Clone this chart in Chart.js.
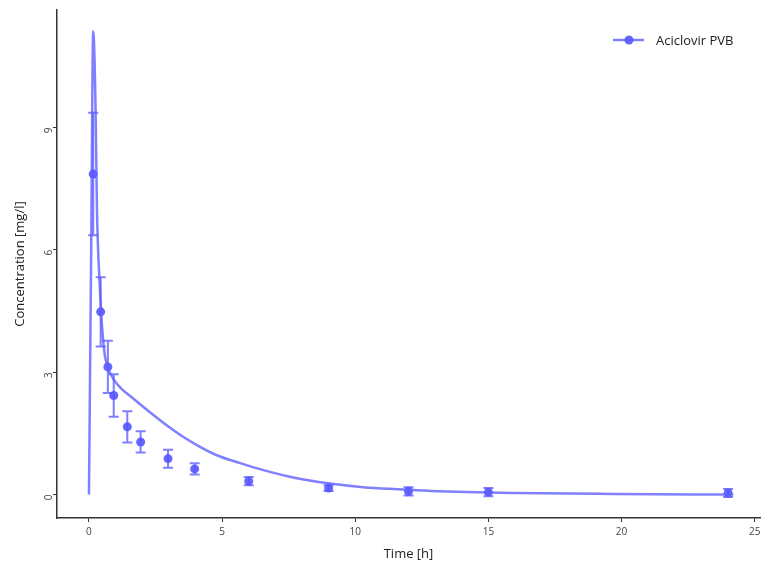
<!DOCTYPE html>
<html>
<head>
<meta charset="utf-8">
<script src="https://cdn.jsdelivr.net/npm/chart.js@4.4.1/dist/chart.umd.min.js"></script>
<style>
  html, body { margin: 0; padding: 0; background: #fff; }
</style>
</head>
<body>
<canvas id="myChart" width="768" height="576"></canvas>
<script>
// observed means and SD
const obsTime = [0.16, 0.44, 0.71, 0.93, 1.44, 1.94, 2.97, 3.97, 6, 9, 12, 15, 24];
const obsConc = [7.86, 4.48, 3.13, 2.43, 1.66, 1.29, 0.88, 0.63, 0.33, 0.16, 0.08, 0.06, 0.04];
const obsSd = [1.5, 0.85, 0.64, 0.52, 0.38, 0.26, 0.22, 0.14, 0.1, 0.07, 0.1, 0.1, 0.1];

// fitted curve
const fitTime = [0, 0.08, 0.16, 0.25, 0.3, 0.4, 0.5, 0.6, 0.73, 0.9, 1.17, 1.67, 2.29, 2.92, 3.55, 4.17, 4.8, 5.68, 6.55, 7.81, 9.06, 10.3, 11.57, 12.82, 15.94, 19.7, 24.2];
const fitConc = [0, 5.7, 11.35, 9.4, 7.0, 5.2, 4.05, 3.4, 3.08, 2.85, 2.63, 2.35, 2.02, 1.7, 1.41, 1.17, 0.965, 0.77, 0.6, 0.4, 0.27, 0.18, 0.13, 0.09, 0.04, 0.015, 0.0];

const xTicks = [0, 5, 10, 15, 20, 25];
const yTicks = [0, 3, 6, 9];
const seriesName = "Aciclovir PVB";

const lineColor = "rgba(95, 95, 255, 0.8)";
const pointColor = "rgba(85, 85, 255, 0.9)";
const axisColor = "#333333";
const fontFamily = "'Open Sans', 'Noto Sans', sans-serif";

const errorBars = {
    id: "errorBars",
    beforeDatasetsDraw(chart) {
        const ctx = chart.ctx;
        const xs = chart.scales.x;
        const ys = chart.scales.y;
        ctx.save();
        ctx.strokeStyle = lineColor;
        ctx.lineWidth = 2;
        obsTime.forEach((t, i) => {
            const x = xs.getPixelForValue(t);
            const top = ys.getPixelForValue(obsConc[i] + obsSd[i]);
            const bot = ys.getPixelForValue(obsConc[i] - obsSd[i]);
            ctx.beginPath();
            ctx.moveTo(x, top);
            ctx.lineTo(x, bot);
            ctx.moveTo(x - 5, top);
            ctx.lineTo(x + 5, top);
            ctx.moveTo(x - 5, bot);
            ctx.lineTo(x + 5, bot);
            ctx.stroke();
        });
        ctx.restore();
    }
};

// legend key in the top right corner: line with a dot, then the name
const legendKey = {
    id: "legendKey",
    afterDraw(chart) {
        const ctx = chart.ctx;
        const area = chart.chartArea;
        const x = area.right - 147;
        const y = area.top + 30;
        ctx.save();
        ctx.strokeStyle = lineColor;
        ctx.lineWidth = 2.5;
        ctx.beginPath();
        ctx.moveTo(x, y);
        ctx.lineTo(x + 31, y);
        ctx.stroke();
        ctx.fillStyle = pointColor;
        ctx.beginPath();
        ctx.arc(x + 16, y, 4.5, 0, Math.PI * 2);
        ctx.fill();
        ctx.fillStyle = "#222";
        ctx.font = "13px " + fontFamily;
        ctx.textAlign = "left";
        ctx.textBaseline = "middle";
        ctx.fillText(seriesName, x + 43, y + 1);
        ctx.restore();
    }
};

function makeChart() {
    const ctx = document.getElementById("myChart").getContext("2d");

    new Chart(ctx, {
        type: "scatter",
        data: {
            datasets: [
                {
                    label: seriesName,
                    data: fitTime.map((t, i) => ({ x: t, y: fitConc[i] })),
                    showLine: true,
                    borderColor: lineColor,
                    borderWidth: 2.5,
                    pointRadius: 0,
                    cubicInterpolationMode: "monotone",
                    order: 1,
                },
                {
                    label: seriesName + " obs",
                    data: obsTime.map((t, i) => ({ x: t, y: obsConc[i] })),
                    showLine: false,
                    backgroundColor: pointColor,
                    borderColor: pointColor,
                    borderWidth: 0,
                    pointRadius: 4.5,
                    order: 2,
                },
            ],
        },
        options: {
            responsive: false,
            animation: false,
            devicePixelRatio: 1,
            layout: { padding: { top: 6, right: 8, left: 0, bottom: 0 } },
            plugins: {
                tooltip: { enabled: false },
                legend: { display: false },
            },
            scales: {
                x: {
                    type: "linear",
                    min: -1.2,
                    max: 25.2,
                    afterBuildTicks: (s) => { s.ticks = xTicks.map((v) => ({ value: v })); },
                    afterFit: (s) => { s.height = 58; },
                    border: { display: true, color: axisColor, width: 1.5 },
                    grid: { drawOnChartArea: false, drawTicks: true, tickLength: 4, color: axisColor, lineWidth: 1 },
                    ticks: { color: "#444", font: { family: fontFamily, size: 10 }, padding: 4, maxRotation: 0 },
                    title: { display: true, text: "Time [h]", color: "#222", font: { family: fontFamily, size: 13 }, padding: { top: 4, bottom: 14 } },
                },
                y: {
                    type: "linear",
                    min: -0.574,
                    max: 11.88,
                    afterBuildTicks: (s) => { s.ticks = yTicks.map((v) => ({ value: v })); },
                    afterFit: (s) => { s.width = 57; },
                    border: { display: true, color: axisColor, width: 1.5 },
                    grid: { drawOnChartArea: false, drawTicks: true, tickLength: 4, color: axisColor, lineWidth: 1 },
                    ticks: { color: "#444", font: { family: fontFamily, size: 10 }, padding: 4, minRotation: 90, maxRotation: 90 },
                    title: { display: true, text: "Concentration [mg/l]", color: "#222", font: { family: fontFamily, size: 13 }, padding: { top: 12, bottom: 4 } },
                },
            },
        },
        plugins: [errorBars, legendKey],
    });
}

makeChart();
</script>
</body>
</html>
